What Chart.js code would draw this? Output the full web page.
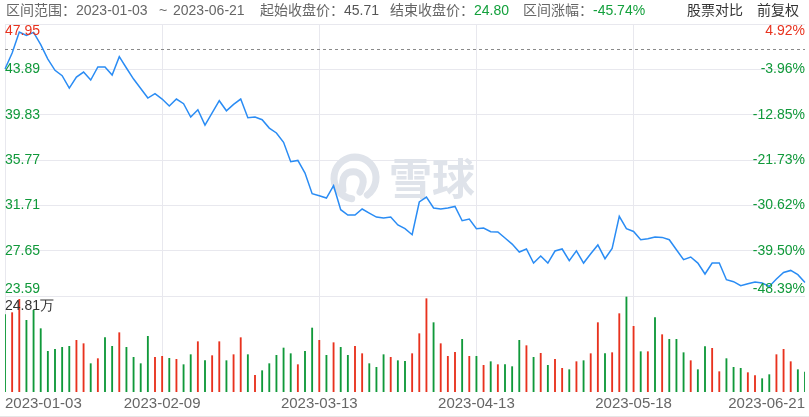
<!DOCTYPE html>
<html>
<head>
<meta charset="utf-8">
<script src="https://cdn.jsdelivr.net/npm/chart.js@4.4.0/dist/chart.umd.min.js"></script>
<style>
html, body { margin: 0; padding: 0; background: #fff; }
#wrap { position: relative; width: 809px; height: 417px; overflow: hidden;
  font-family: "Liberation Sans", "Noto Sans CJK SC", sans-serif; }
#head span { position: absolute; top: 0; font-size: 14px; line-height: 20px; color: #666; white-space: nowrap; }
#head .val { color: #555; font-weight: normal; }
#head .down { color: #13a03c; font-weight: normal; }
#head .tool { color: #333; }
canvas { position: absolute; left: 0; top: 0; }
</style>
</head>
<body>
<div id="wrap">
  <canvas id="kline" width="809" height="417"></canvas>
  <div id="head">
    <span style="left:6px">区间范围：2023-01-03</span>
    <span style="left:159px">~</span>
    <span style="left:173px">2023-06-21</span>
    <span style="left:260px">起始收盘价：<b class="val">45.71</b></span>
    <span style="left:390px">结束收盘价：<b class="down">24.80</b></span>
    <span style="left:523px">区间涨幅：<b class="down">-45.74%</b></span>
    <span class="tool" style="left:687px">股票对比</span>
    <span class="tool" style="left:757px">前复权</span>
  </div>
</div>
<script>
const dates = [
  '2023-01-03','2023-01-04','2023-01-05','2023-01-06','2023-01-09','2023-01-10','2023-01-11','2023-01-12','2023-01-13',
  '2023-01-16','2023-01-17','2023-01-18','2023-01-19','2023-01-20','2023-01-30','2023-01-31',
  '2023-02-01','2023-02-02','2023-02-03','2023-02-06','2023-02-07','2023-02-08','2023-02-09','2023-02-10',
  '2023-02-13','2023-02-14','2023-02-15','2023-02-16','2023-02-17','2023-02-20','2023-02-21','2023-02-22',
  '2023-02-23','2023-02-24','2023-02-27','2023-02-28',
  '2023-03-01','2023-03-02','2023-03-03','2023-03-06','2023-03-07','2023-03-08','2023-03-09','2023-03-10',
  '2023-03-13','2023-03-14','2023-03-15','2023-03-16','2023-03-17','2023-03-20','2023-03-21','2023-03-22',
  '2023-03-23','2023-03-24','2023-03-27','2023-03-28','2023-03-29','2023-03-30','2023-03-31',
  '2023-04-03','2023-04-04','2023-04-06','2023-04-07','2023-04-10','2023-04-11','2023-04-12','2023-04-13',
  '2023-04-14','2023-04-17','2023-04-18','2023-04-19','2023-04-20','2023-04-21','2023-04-24','2023-04-25',
  '2023-04-26','2023-04-27','2023-04-28',
  '2023-05-04','2023-05-05','2023-05-08','2023-05-09','2023-05-10','2023-05-11','2023-05-12','2023-05-15',
  '2023-05-16','2023-05-17','2023-05-18','2023-05-19','2023-05-22','2023-05-23','2023-05-24','2023-05-25',
  '2023-05-26','2023-05-29','2023-05-30','2023-05-31',
  '2023-06-01','2023-06-02','2023-06-05','2023-06-06','2023-06-07','2023-06-08','2023-06-09','2023-06-12',
  '2023-06-13','2023-06-14','2023-06-15','2023-06-16','2023-06-19','2023-06-20','2023-06-21'
];

// closing prices (前复权)
const closes = [
  43.92, 45.35, 47.23, 46.93, 47.20, 46.10, 44.81, 43.80, 43.32, 42.21,
  43.20, 43.65, 42.93, 44.10, 44.10, 43.38, 45.02, 44.01, 43.02, 42.18,
  41.32, 41.71, 41.23, 40.60, 41.23, 40.81, 39.62, 40.27, 38.90, 39.98,
  41.08, 40.18, 40.75, 41.23, 39.56, 39.62, 39.38, 38.63, 38.19, 37.35,
  35.62, 35.73, 34.60, 32.75, 32.57, 32.36, 33.47, 31.32, 30.84, 30.84,
  31.38, 31.02, 30.66, 30.57, 30.66, 29.95, 29.62, 29.08, 32.01, 32.45,
  31.47, 31.38, 31.47, 31.61, 30.33, 30.48, 29.62, 29.68, 29.35, 29.32,
  28.78, 28.24, 27.53, 27.80, 26.54, 27.17, 26.54, 27.62, 27.80, 26.75,
  27.64, 26.54, 27.38, 28.16, 26.93, 27.85, 30.72, 29.62, 29.37, 28.63,
  28.72, 28.87, 28.84, 28.63, 27.73, 26.84, 27.08, 26.54, 25.56, 26.54,
  26.54, 25.05, 24.87, 24.51, 24.69, 24.84, 24.75, 24.45, 25.11, 25.70,
  25.88, 25.50, 24.80
];

// volume, 万股
const volumes = [
  20.20, 20.72, 24.20, 18.72, 21.33, 16.54, 10.62, 11.14, 11.66, 11.93,
  13.49, 12.62, 7.40, 8.71, 14.19, 11.93, 15.49, 11.66, 9.05, 7.40,
  14.54, 9.05, 9.31, 8.79, 8.53, 7.14, 9.75, 13.14, 8.18, 9.49,
  13.14, 8.18, 9.75, 14.19, 9.75, 4.35, 5.57, 7.40, 9.58, 11.49,
  10.01, 7.14, 10.62, 16.71, 13.49, 9.58, 12.88, 11.66, 9.58, 11.93,
  10.01, 7.40, 6.44, 9.75, 9.05, 8.18, 8.01, 10.01, 15.23, 24.37,
  18.11, 12.62, 9.31, 10.36, 13.75, 9.31, 9.31, 6.96, 7.92, 7.14,
  7.14, 6.62, 13.49, 12.10, 9.05, 10.10, 6.96, 8.53, 6.18, 5.83,
  7.92, 8.18, 10.01, 18.11, 10.01, 10.27, 20.46, 24.81, 17.15, 10.53,
  10.53, 19.41, 14.97, 13.75, 13.75, 10.27, 8.18, 5.83, 11.84, 11.40,
  5.31, 8.71, 6.44, 6.18, 5.05, 4.27, 3.48, 4.53, 9.75, 11.14,
  7.92, 5.83, 5.22
];

// 1 = red (up) bar, 0 = green (down) bar
const volumeUp = [
  0, 1, 1, 0, 0, 0, 0, 0, 0, 0,
  1, 1, 0, 1, 0, 0, 1, 0, 0, 0,
  0, 1, 1, 0, 1, 0, 0, 1, 0, 1,
  1, 0, 1, 1, 0, 1, 0, 0, 0, 0,
  0, 1, 0, 0, 1, 0, 1, 0, 0, 1,
  1, 0, 0, 0, 1, 0, 0, 1, 1, 1,
  0, 1, 1, 1, 0, 1, 0, 1, 0, 1,
  0, 0, 0, 1, 0, 1, 0, 1, 1, 0,
  1, 0, 1, 1, 0, 1, 1, 0, 1, 0,
  1, 0, 1, 0, 0, 0, 1, 0, 0, 1,
  1, 0, 0, 0, 1, 1, 0, 0, 1, 1,
  1, 0, 0
];

const startClose = 45.71;
const priceTicks = [23.59, 27.65, 31.71, 35.77, 39.83, 43.89, 47.95];
const pctLabels = ['-48.39%', '-39.50%', '-30.62%', '-21.73%', '-12.85%', '-3.96%', '4.92%'];
const volumeMaxLabel = '24.81万';
const xLabelDates = ['2023-01-03', '2023-02-09', '2023-03-13', '2023-04-13', '2023-05-18', '2023-06-21'];

const RED = '#e8321e';
const GREEN = '#10993a';
const GRID = '#e8e8ee';

// layout of the two panes inside one chart area
const AREA_TOP = 24, AREA_BOTTOM = 392, PRICE_BOTTOM = 296, VOL_TOP = 297;
const pMax = priceTicks[priceTicks.length - 1];
const pMin = priceTicks[0];
const yMin = pMax - (pMax - pMin) * (AREA_BOTTOM - AREA_TOP) / (PRICE_BOTTOM - AREA_TOP);
const volPeak = Math.max(...volumes);
const volMax = volPeak * (AREA_BOTTOM - AREA_TOP) / (AREA_BOTTOM - VOL_TOP);

const overlay = {
  id: 'overlay',
  beforeDatasetsDraw(chart) {
    const ctx = chart.ctx;
    const a = chart.chartArea;
    const y = chart.scales.y;
    // watermark
    ctx.save();
    ctx.strokeStyle = '#dfe3ea';
    ctx.lineWidth = 7;
    ctx.lineCap = 'round';
    ctx.beginPath();
    ctx.arc(355, 178, 21, Math.PI * 0.55, Math.PI * 2.3);
    ctx.stroke();
    ctx.beginPath();
    ctx.moveTo(343, 190);
    ctx.quadraticCurveTo(340, 170, 356, 172);
    ctx.quadraticCurveTo(368, 176, 360, 192);
    ctx.stroke();
    ctx.fillStyle = '#dfe3ea';
    ctx.font = 'bold 43px "Noto Sans CJK SC"';
    ctx.textBaseline = 'middle';
    ctx.fillText('雪球', 389, 179);
    ctx.restore();

    // dashed line at start close
    const yy = Math.round(y.getPixelForValue(startClose)) + 0.5;
    ctx.save();
    ctx.strokeStyle = '#8a8a8a';
    ctx.lineWidth = 1;
    ctx.setLineDash([3, 3]);
    ctx.beginPath();
    ctx.moveTo(a.left, yy);
    ctx.lineTo(a.right, yy);
    ctx.stroke();
    ctx.restore();
  },
  afterDraw(chart) {
    const ctx = chart.ctx;
    const a = chart.chartArea;
    const y = chart.scales.y;
    ctx.save();
    ctx.font = '14px "Liberation Sans"';
    ctx.textBaseline = 'alphabetic';
    priceTicks.forEach((v, i) => {
      const py = y.getPixelForValue(v);
      let base = py + 4;
      if (i === priceTicks.length - 1) base = py + 11;
      if (i === 0) base = py - 3;
      ctx.fillStyle = v > startClose ? RED : GREEN;
      ctx.textAlign = 'left';
      ctx.fillText(v.toFixed(2), a.left, base);
      ctx.textAlign = 'right';
      ctx.fillText(pctLabels[i], a.right, base);
    });
    ctx.fillStyle = '#333';
    ctx.textAlign = 'left';
    ctx.fillText(volumeMaxLabel, a.left, VOL_TOP + 13);
    ctx.fillStyle = '#e6e6e6';
    ctx.fillRect(0, chart.height - 1, chart.width, 1);
    ctx.restore();
  }
};

new Chart(document.getElementById('kline'), {
  type: 'line',
  data: {
    labels: dates,
    datasets: [
      {
        type: 'line',
        data: closes,
        yAxisID: 'y',
        borderColor: '#2a8cf4',
        borderWidth: 1.5,
        pointRadius: 0,
        tension: 0,
        order: 0
      },
      {
        type: 'bar',
        data: volumes,
        yAxisID: 'yv',
        backgroundColor: volumeUp.map(u => u ? RED : GREEN),
        barThickness: 1.2,
        order: 1
      }
    ]
  },
  options: {
    responsive: false,
    animation: false,
    devicePixelRatio: 1,
    layout: { padding: { top: AREA_TOP, left: 5, right: 4, bottom: 0 } },
    plugins: { legend: { display: false }, tooltip: { enabled: false } },
    scales: {
      x: {
        type: 'category',
        offset: false,
        grid: {
          offset: false,
          drawTicks: false,
          color: c => (c.tick && xLabelDates.includes(dates[c.tick.value]) && c.index !== dates.length - 1) ? GRID : 'rgba(0,0,0,0)'
        },
        border: { display: false },
        ticks: {
          autoSkip: false,
          maxRotation: 0,
          minRotation: 0,
          align: 'inner',
          padding: 3,
          color: '#666',
          font: { family: 'Liberation Sans', size: 15 },
          callback: (v, i) => xLabelDates.includes(dates[i]) ? dates[i] : ''
        },
        afterFit: s => { s.height = 417 - AREA_BOTTOM; }
      },
      y: {
        position: 'left',
        min: yMin,
        max: pMax,
        afterBuildTicks: s => { s.ticks = priceTicks.map(v => ({ value: v })); },
        grid: { color: GRID, drawTicks: false },
        border: { display: false },
        ticks: { display: false },
        afterFit: s => { s.width = 0; }
      },
      yv: {
        position: 'left',
        min: 0,
        max: volMax,
        grid: { display: false, drawTicks: false },
        border: { display: false },
        ticks: { display: false },
        afterFit: s => { s.width = 0; }
      }
    }
  },
  plugins: [overlay]
});
</script>
</body>
</html>
